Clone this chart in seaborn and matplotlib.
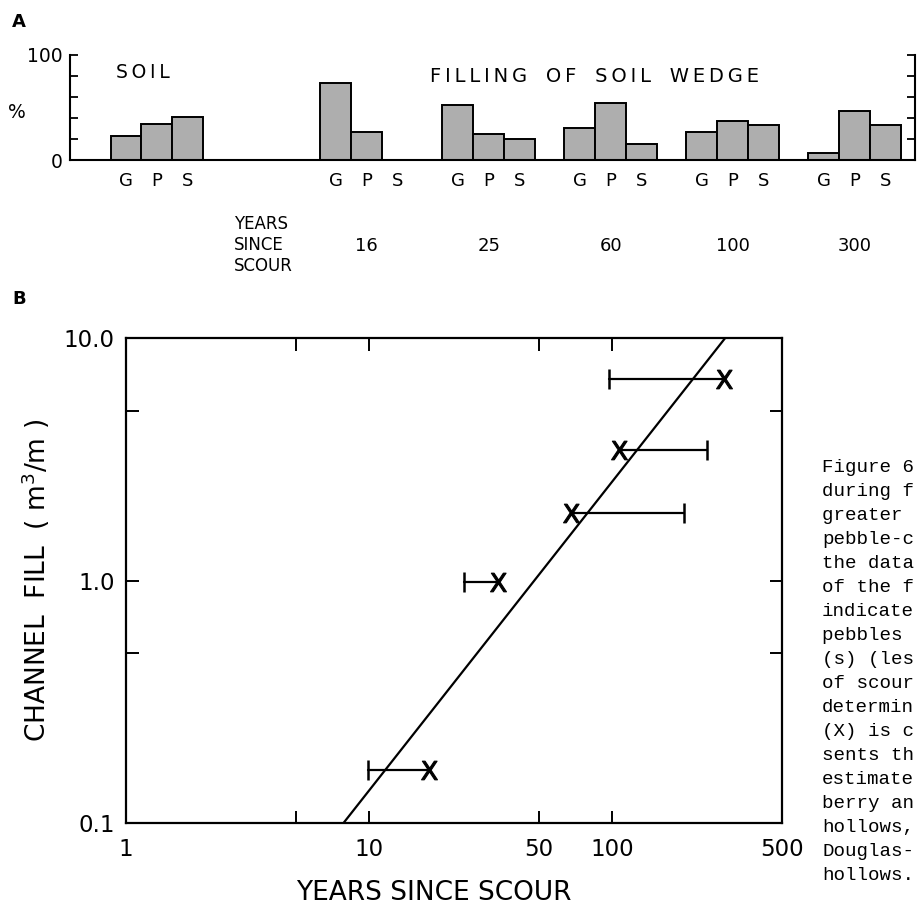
import matplotlib
matplotlib.use("Agg")
import matplotlib.pyplot as plt
import matplotlib.transforms as mtrans
from matplotlib.ticker import FixedLocator, NullLocator, FixedFormatter
import numpy as np
import pandas as pd
import seaborn as sns

# ---------------- data: panel A ----------------
groups = ["SOIL", "16", "25", "60", "100", "300"]
fractions = ["G", "P", "S"]
pct_gravel = [23, 73, 52.5, 30, 27, 6.5]
pct_pebble = [34.5, 27, 24.5, 54.5, 37, 46.5]
pct_sand = [41, 0, 20, 15, 33.5, 33.5]
year_labels_A = ["", "16", "25", "60", "100", "300"]

# ---------------- data: panel B ----------------
channel_fill = [6.8, 3.45, 1.9, 0.99, 0.165]
years_est = [290, 107, 68, 34, 17.7]
years_low = [97, 107, 68, 24.5, 9.9]
years_high = [290, 246, 198, 34, 17.7]
fit_years = [7.85, 292]
fit_fill = [0.1, 10.0]

caption_lines = ["Figure 6", "during f", "greater ", "pebble-c", "the data",
                 "of the f", "indicate", "pebbles ", "(s) (les", "of scour",
                 "determin", "(X) is c", "sents th", "estimate", "berry an",
                 "hollows,", "Douglas-", "hollows."]

# ---------------- style ----------------
sns.set_theme(style="ticks", rc={
    "axes.edgecolor": "black", "text.color": "black", "xtick.color": "black",
    "ytick.color": "black", "axes.labelcolor": "black",
    "figure.facecolor": "white", "axes.facecolor": "white"})
plt.rcParams["font.family"] = ["DejaVu Sans"]

W, H = 917, 905
fig = plt.figure(figsize=(W / 100, H / 100), dpi=100)


def rect(l, t, r, b):
    return [l / W, 1 - b / H, (r - l) / W, (b - t) / H]


def ftext(x, y, s, **kw):
    return fig.text(x / W, 1 - y / H, s, **kw)


# ---------------- panel A ----------------
axA = fig.add_axes(rect(70, 55, 915, 160))
slot = [0.0, 1.72, 2.72, 3.72, 4.72, 5.72]
bw = 0.254
rows = []
for gi, g in enumerate(groups):
    for fi, (f, vals) in enumerate(zip(fractions, [pct_gravel, pct_pebble, pct_sand])):
        rows.append({"group": g, "fraction": f, "pct": vals[gi],
                     "xpos": round(slot[gi] + (fi - 1) * bw, 4)})
dfA = pd.DataFrame(rows)

sns.barplot(data=dfA, x="xpos", y="pct", native_scale=True, width=1.0,
            color="#aeaeae", saturation=1, edgecolor="black", linewidth=1.4,
            errorbar=None, ax=axA)
axA.set_xlim(-0.713, 6.213)
axA.set_ylim(0, 100)
axA.spines["top"].set_visible(False)
for s in ["left", "right", "bottom"]:
    axA.spines[s].set_linewidth(1.5)
axA.set_yticks([0, 20, 40, 60, 80, 100])
axA.set_yticklabels(["0", "", "", "", "", "100"])
axA.tick_params(axis="y", direction="in", length=6, width=1.3, left=True,
                right=True, labelsize=13.5, pad=5)
axA.set_xticks(dfA["xpos"].tolist())
axA.set_xticklabels(dfA["fraction"].tolist())
axA.tick_params(axis="x", length=0, labelsize=13, pad=9)
axA.set_xlabel("")
axA.set_ylabel("")

trA = mtrans.blended_transform_factory(axA.transData, fig.transFigure)
for gi, lab in enumerate(year_labels_A):
    if lab:
        axA.text(slot[gi], 1 - 246 / H, lab, transform=trA, ha="center",
                 va="center", fontsize=13)

ftext(234, 245, "YEARS\nSINCE\nSCOUR", ha="left", va="center", fontsize=12,
      linespacing=1.2)
ftext(116, 73, "S\u2009O\u2009I\u2009L", ha="left", va="center", fontsize=13.5)
ftext(595, 77, "F\u2009I\u2009L\u2009L\u2009I\u2009N\u2009G   O\u2009F   S\u2009O\u2009I\u2009L   W\u2009E\u2009D\u2009G\u2009E",
      ha="center", va="center", fontsize=14)
ftext(17, 112, "%", ha="center", va="center", fontsize=13.5)
ftext(19, 22, "A", ha="center", va="center", fontsize=13, fontweight="bold")
ftext(19, 299, "B", ha="center", va="center", fontsize=13, fontweight="bold")

# ---------------- panel B ----------------
axB = fig.add_axes(rect(126, 338, 782, 823))
axB.set_xscale("log")
axB.set_yscale("log")

sns.lineplot(x=fit_years, y=fit_fill, color="black", lw=1.6, estimator=None,
             sort=False, ax=axB)

n = len(channel_fill)
dfE = pd.DataFrame({
    "id": np.repeat(np.arange(n), 2),
    "years": np.ravel(np.column_stack([years_low, years_high])),
    "fill": np.repeat(channel_fill, 2),
})
sns.lineplot(data=dfE, x="years", y="fill", units="id", estimator=None,
             color="black", lw=1.6, sort=False, ax=axB)

cap_x = [lo if np.isclose(hi, e) else hi
         for lo, hi, e in zip(years_low, years_high, years_est)]
sns.scatterplot(x=cap_x, y=channel_fill, marker="|", s=200, color="black",
                linewidth=1.8, ax=axB)
sns.scatterplot(x=years_est, y=channel_fill, marker=r"$\mathsf{X}$", s=180,
                color="black", edgecolor="black", linewidth=0.8, ax=axB)

axB.set_xlim(1, 500)
axB.set_ylim(0.1, 10)
axB.xaxis.set_major_locator(FixedLocator([1, 5, 10, 50, 100, 500]))
axB.xaxis.set_major_formatter(FixedFormatter(["1", "", "10", "50", "100", "500"]))
axB.xaxis.set_minor_locator(NullLocator())
axB.yaxis.set_major_locator(FixedLocator([0.1, 0.5, 1, 5, 10]))
axB.yaxis.set_major_formatter(FixedFormatter(["0.1", "", "1.0", "", "10.0"]))
axB.yaxis.set_minor_locator(NullLocator())
axB.tick_params(axis="both", direction="in", length=9, width=1.4, top=True,
                right=True, labelsize=16.5)
axB.tick_params(axis="x", pad=11)
axB.tick_params(axis="y", pad=8)
for s in axB.spines.values():
    s.set_linewidth(1.6)
axB.set_xlabel("")
axB.set_ylabel("")

ftext(36, 580, "CHANNEL  FILL  ( m$^3$/m )", rotation=90, ha="center",
      va="center", fontsize=19)
ftext(434, 893, "YEARS SINCE SCOUR", ha="center", va="center", fontsize=19)

# ---------------- caption (fragment visible at right edge) ----------------
for i, line in enumerate(caption_lines):
    ftext(822, 467 + 24 * i, line, ha="left", va="center", fontsize=13.8,
          family=["Liberation Mono", "DejaVu Sans Mono"])

fig.savefig("out.png", dpi=100)
